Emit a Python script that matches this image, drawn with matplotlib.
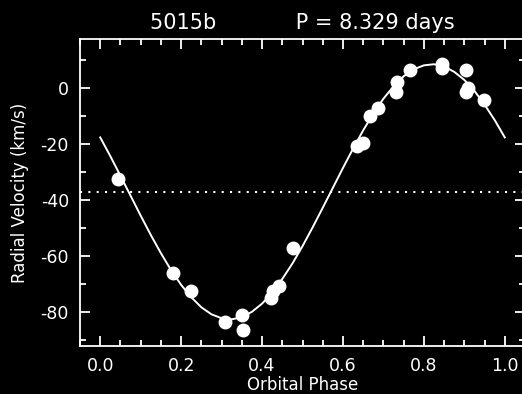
import matplotlib
matplotlib.use("Agg")
import matplotlib.pyplot as plt
from matplotlib.ticker import MultipleLocator

# observed radial velocities (phase, km/s)
obs_phase = [0.045, 0.181, 0.224, 0.309, 0.351, 0.353, 0.421, 0.426, 0.443, 0.477,
             0.635, 0.650, 0.667, 0.686, 0.733, 0.731, 0.765, 0.846, 0.844,
             0.904, 0.909, 0.905, 0.948]
obs_rv = [-32.4, -65.9, -72.5, -83.4, -81.1, -86.4, -74.8, -72.5, -70.5, -57.0,
          -20.5, -19.5, -9.8, -7.2, 2.2, -1.3, 6.6, 8.5, 7.2,
          6.6, 0.2, -1.3, -4.3]

# orbit fit, read every 0.025 in phase
fit_phase = [i * 0.025 for i in range(41)]
fit_rv = [-17.6, -24.3, -31.3, -38.4, -45.5, -52.4, -58.9, -64.9, -70.2, -74.6,
          -78.2, -80.7, -82.1, -82.5, -81.7, -79.8, -76.9, -73.0, -68.1, -62.6,
          -56.4, -49.7, -42.7, -35.6, -28.5, -21.6, -15.1, -9.1, -3.8, 0.6,
          4.2, 6.7, 8.1, 8.5, 7.7, 5.8, 2.9, -1.0, -5.9, -11.4, -17.6]

gamma = -37.0
title_txt = "5015b            P = 8.329 days"

fg = "white"
plt.rcParams["font.family"] = ["DejaVu Sans"]
plt.rcParams["axes.unicode_minus"] = False

fig = plt.figure(figsize=(5.22, 3.94), dpi=100, facecolor="black")
ax = fig.add_axes([80 / 522, 48 / 394, 445 / 522, 307 / 394], facecolor="black")

ax.plot(fit_phase, fit_rv, color=fg, lw=1.4)
ax.plot(obs_phase, obs_rv, "o", color=fg, ms=9, mec=fg)
ax.axhline(gamma, color=fg, lw=1.5, ls=(0, (1, 3)))

ax.set_xlim(-0.05, 1.05)
ax.set_ylim(-92, 17.5)
ax.xaxis.set_major_locator(MultipleLocator(0.2))
ax.xaxis.set_minor_locator(MultipleLocator(0.05))
ax.yaxis.set_major_locator(MultipleLocator(20))
ax.yaxis.set_minor_locator(MultipleLocator(10))
ax.tick_params(which="both", direction="in", top=True, right=True,
               colors=fg, labelcolor=fg, width=1.3)
ax.tick_params(which="major", length=7, labelsize=12.5, pad=8)
ax.tick_params(which="minor", length=4)
for s in ax.spines.values():
    s.set_color(fg)
    s.set_linewidth(1.3)

ax.set_xlabel("Orbital Phase", color=fg, fontsize=12, labelpad=1)
ax.set_ylabel("Radial Velocity (km/s)", color=fg, fontsize=12, labelpad=8)
ax.set_title(title_txt, color=fg, fontsize=15, pad=7)

fig.savefig("out.png", dpi=100, facecolor="black")
